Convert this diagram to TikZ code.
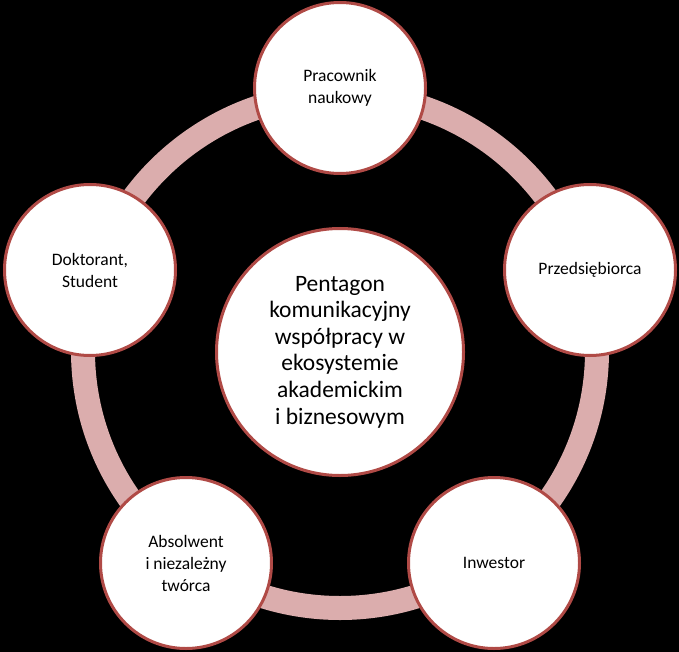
\documentclass[tikz,border=0pt]{standalone}
\usepackage{fontspec}
\setmainfont{Carlito}
\definecolor{ringc}{RGB}{219,173,173}
\definecolor{bord}{RGB}{176,74,70}
\begin{document}
\begin{tikzpicture}[x=1pt,y=-1pt,
  outer/.style={circle, draw=bord, line width=3pt, fill=white, minimum size=171pt, inner sep=0pt, align=center, font=\fontsize{17.5}{22}\selectfont},
  hub/.style={circle, draw=bord, line width=3pt, fill=white, minimum size=247pt, inner sep=0pt, align=center, font=\fontsize{23.5}{26.6}\selectfont}]
\fill[black] (0,0) rectangle (679,652);
\useasboundingbox (0,0) rectangle (679,652);
\coordinate (c) at (340,351);
\draw[ringc, line width=24pt] (c) circle[radius=257pt];
\node[hub] (center) at (340,352) {Pentagon\\komunikacyjny\\współpracy w\\ekosystemie\\akademickim\\i biznesowym};
\node[outer] (top) at (340,88) {Pracownik\\naukowy};
\node[outer] (right) at (590,270) {Przedsiębiorca};
\node[outer] (left) at (90,270) {Doktorant,\\Student};
\node[outer] (bl) at (186,563) {Absolwent\\i niezależny\\twórca};
\node[outer] (br) at (494,563) {Inwestor};
\end{tikzpicture}
\end{document}
